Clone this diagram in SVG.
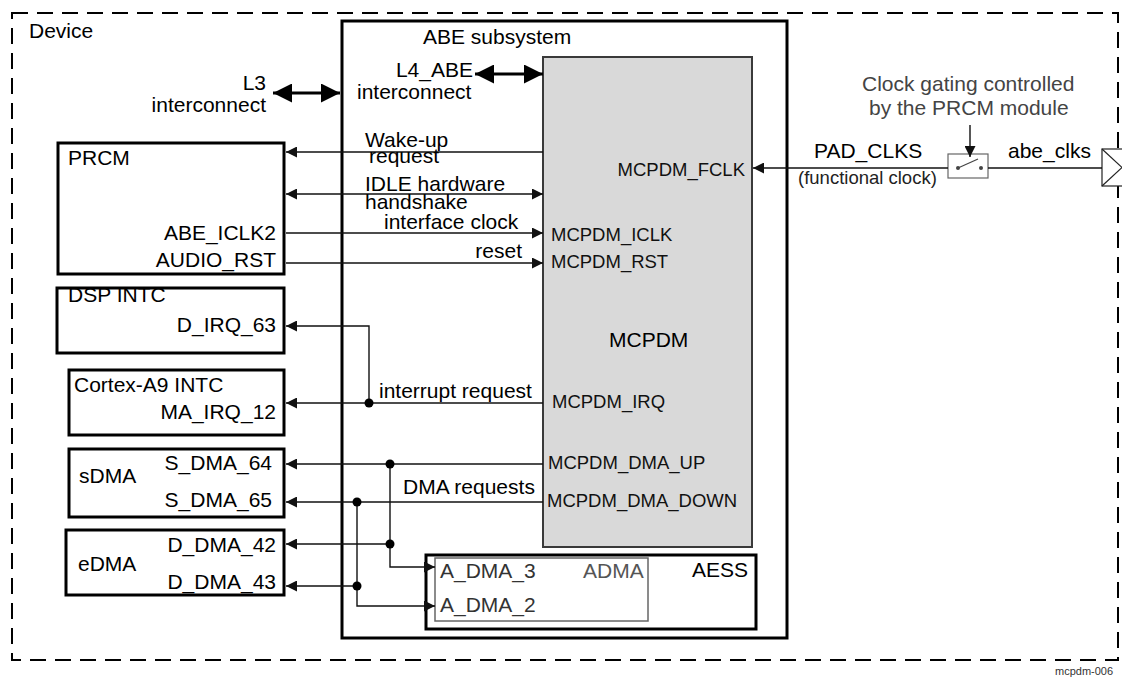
<svg xmlns="http://www.w3.org/2000/svg" width="1122" height="677" viewBox="0 0 1122 677">
<style>
text{font-family:"Liberation Sans",Arial,sans-serif;font-size:21px;fill:#000}
.port{font-size:18.5px;fill:#111}
.gray{fill:#444}
.end{text-anchor:end}
.box{fill:#fff;stroke:#000;stroke-width:3}
.thin{fill:none;stroke:#111;stroke-width:1.4}
.thick{fill:none;stroke:#000;stroke-width:3.2}
.dot{fill:#000}
</style>
<defs>
<marker id="ah" viewBox="0 0 10 10" refX="10" refY="5" markerWidth="11" markerHeight="11" markerUnits="userSpaceOnUse" orient="auto-start-reverse"><path d="M0,0 L10,5 L0,10 z" fill="#111"/></marker>
<marker id="big" viewBox="0 0 10 10" refX="10" refY="5" markerWidth="19" markerHeight="19" markerUnits="userSpaceOnUse" orient="auto-start-reverse"><path d="M0,0 L10,5 L0,10 z" fill="#000"/></marker>
</defs>
<rect width="1122" height="677" fill="#fff"/>

<g id="device">
<rect x="12" y="13" width="1106" height="647" fill="none" stroke="#000" stroke-width="2" stroke-dasharray="16 9"/>
<text x="29" y="38">Device</text>
</g>

<g id="abe-subsystem">
<rect x="342" y="21" width="445" height="617" fill="none" stroke="#000" stroke-width="3"/>
<text x="423" y="44">ABE subsystem</text>
</g>

<g id="mcpdm">
<rect x="543" y="57" width="209" height="490" fill="#d9d9d9" stroke="#3a3a3a" stroke-width="2"/>
<text x="609" y="347">MCPDM</text>
<text class="port end" x="745" y="176">MCPDM_FCLK</text>
<text class="port" x="551" y="241">MCPDM_ICLK</text>
<text class="port" x="551" y="268">MCPDM_RST</text>
<text class="port" x="552" y="408">MCPDM_IRQ</text>
<text class="port" x="548" y="469">MCPDM_DMA_UP</text>
<text class="port" x="547" y="507">MCPDM_DMA_DOWN</text>
</g>

<g id="l3">
<text class="end" x="266" y="90">L3</text>
<text class="end" x="266" y="112">interconnect</text>
</g>

<g id="l4-abe">
<text class="end" x="473" y="77">L4_ABE</text>
<text x="357" y="99">interconnect</text>
</g>

<g id="prcm">
<rect class="box" x="58" y="143" width="226" height="131"/>
<text x="68" y="165">PRCM</text>
<text class="end" x="276" y="240">ABE_ICLK2</text>
<text class="end" x="276" y="267">AUDIO_RST</text>
</g>

<g id="dsp-intc">
<rect class="box" x="57" y="288" width="227" height="65"/>
<text x="68" y="302">DSP INTC</text>
<text class="end" x="276" y="332">D_IRQ_63</text>
</g>

<g id="cortex-intc">
<rect class="box" x="69" y="370" width="215" height="65"/>
<text x="74" y="392">Cortex-A9 INTC</text>
<text class="end" x="276" y="419">MA_IRQ_12</text>
</g>

<g id="sdma">
<rect class="box" x="69" y="449" width="215" height="68"/>
<text x="79" y="483">sDMA</text>
<text class="end" x="272" y="470">S_DMA_64</text>
<text class="end" x="272" y="507">S_DMA_65</text>
</g>

<g id="edma">
<rect class="box" x="66" y="530" width="218" height="65"/>
<text x="78" y="571">eDMA</text>
<text class="end" x="276" y="552">D_DMA_42</text>
<text class="end" x="276" y="589">D_DMA_43</text>
</g>

<g id="aess">
<rect class="box" x="426" y="555" width="330" height="74"/>
<text class="end" x="748" y="577">AESS</text>
</g>

<g id="adma">
<rect x="435" y="558" width="213" height="63" fill="none" stroke="#666" stroke-width="1.5"/>
<text x="583" y="578" fill="#555" style="fill:#555">ADMA</text>
<text x="440" y="578" style="fill:#333">A_DMA_3</text>
<text x="440" y="612" style="fill:#333">A_DMA_2</text>
</g>

<g id="clock-gate">
<rect x="948" y="154" width="40" height="24" fill="#fff" stroke="#666" stroke-width="1.2"/>
<circle cx="958" cy="168" r="2" fill="#444"/>
<circle cx="981" cy="168" r="2" fill="#444"/>
<line x1="958" y1="168" x2="978" y2="159" stroke="#444" stroke-width="1.2"/>
<text class="gray" x="862" y="91">Clock gating controlled</text>
<text class="gray" x="869" y="115">by the PRCM module</text>
</g>

<g id="pad">
<rect x="1102" y="149" width="40" height="37" fill="#fff" stroke="#222" stroke-width="1.2"/>
<line x1="1102" y1="149" x2="1142" y2="186" stroke="#222" stroke-width="1.2"/>
<line x1="1102" y1="186" x2="1142" y2="149" stroke="#222" stroke-width="1.2"/>
<text x="1008" y="158">abe_clks</text>
</g>

<g id="connectors">
<line class="thick" x1="273" y1="93" x2="340" y2="93" marker-start="url(#big)" marker-end="url(#big)"/>
<line class="thick" x1="475" y1="74" x2="543" y2="74" marker-start="url(#big)" marker-end="url(#big)"/>
<line class="thin" x1="543" y1="152" x2="286" y2="152" marker-end="url(#ah)"/>
<line class="thin" x1="286" y1="194" x2="543" y2="194" marker-start="url(#ah)" marker-end="url(#ah)"/>
<line class="thin" x1="286" y1="233" x2="543" y2="233" marker-end="url(#ah)"/>
<line class="thin" x1="286" y1="263" x2="543" y2="263" marker-end="url(#ah)"/>
<line class="thin" x1="948" y1="168" x2="753" y2="168" marker-end="url(#ah)"/>
<line class="thin" x1="988" y1="168" x2="1102" y2="168"/>
<line class="thin" x1="970" y1="125" x2="970" y2="157" marker-end="url(#ah)"/>
<line class="thin" x1="543" y1="403" x2="286" y2="403" marker-end="url(#ah)"/>
<path class="thin" d="M369,403 V326 H286" marker-end="url(#ah)"/>
<circle class="dot" cx="369" cy="403" r="4.5"/>
<line class="thin" x1="543" y1="464" x2="286" y2="464" marker-end="url(#ah)"/>
<path class="thin" d="M390,464 V567 H435" marker-end="url(#ah)"/>
<line class="thin" x1="390" y1="544" x2="286" y2="544" marker-end="url(#ah)"/>
<circle class="dot" cx="390" cy="464" r="4.5"/>
<circle class="dot" cx="390" cy="544" r="4.5"/>
<line class="thin" x1="543" y1="502" x2="286" y2="502" marker-end="url(#ah)"/>
<path class="thin" d="M357,502 V606 H435" marker-end="url(#ah)"/>
<line class="thin" x1="357" y1="586" x2="286" y2="586" marker-end="url(#ah)"/>
<circle class="dot" cx="357" cy="502" r="4.5"/>
<circle class="dot" cx="357" cy="586" r="4.5"/>
</g>

<g id="labels">
<text x="365" y="147">Wake-up</text>
<text x="369" y="163">request</text>
<text x="365" y="191">IDLE hardware</text>
<text x="365" y="209">handshake</text>
<text x="384" y="229">interface clock</text>
<text class="end" x="522" y="258">reset</text>
<text x="379" y="398">interrupt request</text>
<text x="403" y="494">DMA requests</text>
<text x="814" y="158">PAD_CLKS</text>
<text x="798" y="184" style="font-size:18.5px;fill:#222">(functional clock)</text>
<text x="1055" y="675" style="font-size:11px;fill:#333">mcpdm-006</text>
</g>
</svg>
